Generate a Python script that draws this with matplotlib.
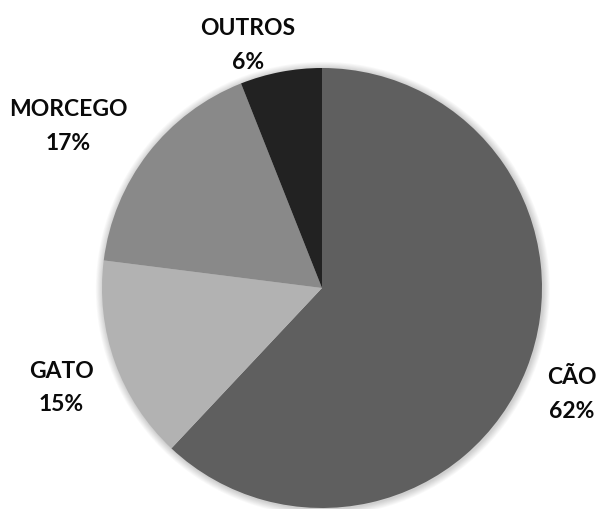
"""Pie chart: share of cases by animal species."""

import matplotlib.pyplot as plt
from matplotlib.patches import Circle

categories = ["CÃO", "GATO", "MORCEGO", "OUTROS"]
shares = [62, 15, 17, 6]
colors = ["#5f5f5f", "#b2b2b2", "#898989", "#222222"]

# label anchors, in units of the pie radius
label_xy = [(1.135, -0.48), (-1.185, -0.45), (-1.155, 0.738), (-0.336, 1.108)]

W, H = 598, 510
cx, cy, r = 322, 289, 220

plt.rcParams["font.family"] = ["Lato", "DejaVu Sans"]

fig = plt.figure(figsize=(W / 100, H / 100), dpi=100)
ax = fig.add_axes([0, 0, 1, 1])

# soft shadow under the pie
for k in range(8):
    ax.add_patch(Circle((0.004, -0.004), 1 + 0.004 * (k + 1), color="black",
                        alpha=0.025, lw=0, zorder=0))

wedges, _ = ax.pie(shares, colors=colors, startangle=90, counterclock=False,
                   radius=1, center=(0, 0), wedgeprops=dict(linewidth=0),
                   frame=True)
ax.set_xlim(-cx / r, (W - cx) / r)
ax.set_ylim((cy - H) / r, cy / r)
ax.set_aspect("equal")
ax.axis("off")

for (x, y), name, val in zip(label_xy, categories, shares):
    ax.text(x, y, f"{name}\n{val}%", ha="center", va="center",
            fontsize=16.5, fontweight="bold", color="#0a0a0a",
            linespacing=1.75)

fig.savefig("out.png", dpi=100)
